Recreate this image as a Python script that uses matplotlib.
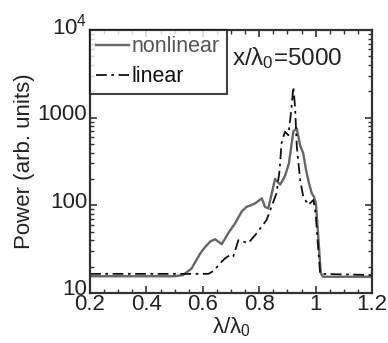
import matplotlib
matplotlib.use("Agg")
import matplotlib.pyplot as plt
import matplotlib.transforms as mtransforms
from matplotlib.ticker import FixedLocator, LogLocator, MultipleLocator, NullFormatter

plt.rcParams['font.family'] = ['Liberation Sans', 'DejaVu Sans']
plt.rcParams['mathtext.fontset'] = 'custom'
plt.rcParams['mathtext.rm'] = 'Liberation Sans'
plt.rcParams['mathtext.it'] = 'Liberation Sans'

nl_x = [0.2, 0.5, 0.53, 0.56, 0.59, 0.61, 0.626, 0.643, 0.667, 0.69, 0.714, 0.738, 0.755, 0.773,
        0.785, 0.809, 0.82, 0.832, 0.845, 0.856, 0.874, 0.891, 0.905, 0.921, 0.933, 0.945, 0.956,
        0.966, 0.976, 0.986, 0.994, 1.001, 1.01, 1.018, 1.025, 1.2]
nl_y = [15.5, 15.5, 16, 19, 28, 34, 38.5, 41, 36, 48, 62, 85, 96, 101,
        105, 120, 96, 92, 140, 200, 172, 215, 300, 700, 750, 480, 390,
        250, 180, 137, 125, 105, 40, 17, 15.3, 15.3]

lin_x = [0.2, 0.62, 0.64, 0.661, 0.68, 0.696, 0.708, 0.726, 0.744, 0.761, 0.791, 0.826, 0.861,
         0.872, 0.879, 0.891, 0.903, 0.912, 0.921, 0.927, 0.933, 0.945, 0.956, 0.974, 0.992, 1.0,
         1.008, 1.016, 1.2]
lin_y = [16.5, 16.5, 18, 21.8, 25, 27, 26, 40, 38.5, 37, 48, 68, 137,
         250, 510, 690, 630, 1100, 2250, 1300, 470, 194, 125, 101, 115, 81,
         35, 16.5, 16]

x_ticks = [0.2, 0.4, 0.6, 0.8, 1.0, 1.2]
x_tick_labels = ['0.2', '0.4', '0.6', '0.8', '1', '1.2']
y_ticks = [10, 100, 1000, 10000]
y_tick_labels = ['10', '100', '1000', r'10$^4$']

fig = plt.figure(figsize=(3.88, 3.43), dpi=100)
ax = fig.add_axes([0.232, 0.146, 0.727, 0.7665])

txt = '#222222'
ax.plot(nl_x, nl_y, color='#666666', lw=1.7, label='nonlinear')
ax.plot(lin_x, lin_y, color='#111111', lw=1.3, ls=(0, (6, 2.5, 1.5, 2.5)), label='linear')

ax.set_yscale('log')
ax.set_xlim(0.2, 1.2)
ax.set_ylim(10, 10000)
ax.xaxis.set_major_locator(FixedLocator(x_ticks))
ax.set_xticklabels(x_tick_labels)
ax.xaxis.set_minor_locator(MultipleLocator(0.05))
ax.yaxis.set_major_locator(FixedLocator(y_ticks))
ax.set_yticklabels(y_tick_labels)
ax.yaxis.set_minor_locator(LogLocator(base=10, subs=range(2, 10)))
ax.yaxis.set_minor_formatter(NullFormatter())

ax.tick_params(which='both', direction='in', top=True, right=True, colors='#333333',
               labelcolor=txt, labelsize=16)
ax.tick_params(which='major', length=5, width=1.2)
ax.tick_params(which='minor', length=3, width=1.0)
ax.tick_params(axis='x', pad=1)
ax.tick_params(axis='y', pad=2)
offset = mtransforms.ScaledTranslation(0, 4 / 72, fig.dpi_scale_trans)
for lbl in ax.get_yticklabels():
    lbl.set_transform(lbl.get_transform() + offset)
for s in ax.spines.values():
    s.set_linewidth(1.6)
    s.set_color('#333333')

ax.set_xlabel(r'$\lambda/\lambda_0$', fontsize=16, color=txt, labelpad=0)
ax.set_ylabel('Power (arb. units)', fontsize=16, color=txt, labelpad=2)

ax.text(0.505, 0.895, r'x/$\lambda_0$=5000', transform=ax.transAxes, fontsize=17.5, color=txt,
        ha='left', va='center')

leg = ax.legend(loc='upper left', fontsize=15.5, frameon=True, fancybox=False, borderaxespad=0,
                handlelength=1.5, handletextpad=0.15, borderpad=0.3, labelspacing=0.4)
leg.get_frame().set_edgecolor('#111111')
leg.get_frame().set_linewidth(1.5)
leg.get_texts()[0].set_color('#555555')
leg.get_texts()[1].set_color('#111111')

fig.savefig('out.png', dpi=100)
